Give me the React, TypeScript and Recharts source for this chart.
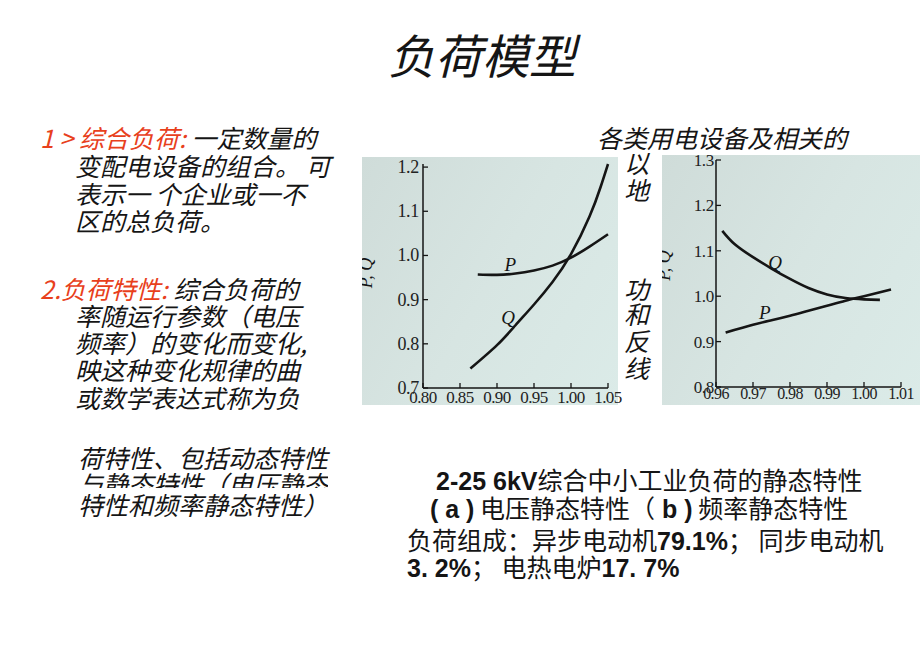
import { LineChart, Line, XAxis, YAxis, ReferenceDot } from 'recharts';

// (a) voltage static characteristic
const voltageTicks = [0.8, 0.85, 0.9, 0.95, 1.0, 1.05];
const voltageLevels = [0.7, 0.8, 0.9, 1.0, 1.1, 1.2];
const pVoltageU = [0.874, 0.9, 0.925, 0.95, 0.975, 1.0, 1.025, 1.05];
const pVoltageVal = [0.957, 0.956, 0.959, 0.966, 0.977, 0.995, 1.02, 1.048];
const qVoltageU = [0.864, 0.9, 0.925, 0.95, 0.975, 1.0, 1.025, 1.04, 1.05];
const qVoltageVal = [0.744, 0.797, 0.842, 0.889, 0.94, 1.003, 1.088, 1.155, 1.207];
const pVoltageTag = [0.918, 0.979];
const qVoltageTag = [0.915, 0.858];

// (b) frequency static characteristic
const freqTicks = [0.96, 0.97, 0.98, 0.99, 1.0, 1.01];
const freqLevels = [0.8, 0.9, 1.0, 1.1, 1.2, 1.3];
const pFreqF = [0.9626, 0.97, 0.975, 0.98, 0.985, 0.99, 0.995, 1.0, 1.0073];
const pFreqVal = [0.92, 0.937, 0.947, 0.957, 0.968, 0.979, 0.99, 1.0, 1.015];
const qFreqF = [0.9617, 0.965, 0.97, 0.975, 0.98, 0.985, 0.99, 0.995, 1.0, 1.0043];
const qFreqVal = [1.144, 1.115, 1.086, 1.061, 1.038, 1.018, 1.004, 0.996, 0.993, 0.992];
const qFreqTag = [0.976, 1.073];
const pFreqTag = [0.9732, 0.963];

const toPoints = (xs: number[], ys: number[]) => xs.map((x, i) => ({ x, y: ys[i] }));

const serif = '"Liberation Serif", "DejaVu Serif", serif';
const cjk = '"Noto Sans CJK SC", "Noto Sans", sans-serif';
const ink = '#151515';

function makeXTick(digits: number, labelDy: number, size: number) {
  return (props: any) => {
    const { x, y, payload } = props;
    return (
      <g>
        <line x1={x} x2={x} y1={y} y2={y - 5} stroke={ink} strokeWidth={1.3} />
        <text x={x} y={y + labelDy} textAnchor="middle" fontFamily={serif} fontSize={size} letterSpacing={-0.6} fill="#222">
          {Number(payload.value).toFixed(digits)}
        </text>
      </g>
    );
  };
}

function makeYTick(gap: number, size: number) {
  return (props: any) => {
    const { x, y, payload } = props;
    return (
      <g>
        <line x1={x} x2={x + 5} y1={y} y2={y} stroke={ink} strokeWidth={1.3} />
        <text x={x - gap} y={y + 6} textAnchor="end" fontFamily={serif} fontSize={size} letterSpacing={-0.3} fill="#222">
          {Number(payload.value).toFixed(1)}
        </text>
      </g>
    );
  };
}

function axisTitle(dx: number, dy: number) {
  return (props: any) => {
    const vb = props.viewBox;
    const cx = vb.x + dx;
    const cy = vb.y + vb.height / 2 + dy;
    return (
      <text
        transform={`translate(${cx}, ${cy}) rotate(-90)`}
        textAnchor="middle"
        fontFamily={serif}
        fontStyle="italic"
        fontSize={18}
        fill={ink}
      >
        P, Q
      </text>
    );
  };
}

function curveTag(text: string) {
  return (props: any) => {
    const vb = props.viewBox;
    return (
      <text
        x={vb.x + vb.width / 2}
        y={vb.y + vb.height / 2 + 6}
        textAnchor="middle"
        fontFamily={serif}
        fontStyle="italic"
        fontSize={19}
        fill={ink}
      >
        {text}
      </text>
    );
  };
}

const axisLine = { stroke: ink, strokeWidth: 1.5 };
const plate = 'linear-gradient(120deg, #cfdcd9 0%, #d7e5e2 50%, #dbebe8 100%)';

function VoltageChart() {
  return (
    <>
      <div style={{ position: 'absolute', left: 362, top: 157, width: 256, height: 248, background: plate }} />
      <div style={{ position: 'absolute', left: 362, top: 157 }}>
        <LineChart width={266} height={248} margin={{ top: 7, right: 20, left: 0, bottom: 0 }}>
          <XAxis
            type="number"
            dataKey="x"
            domain={[0.8, 1.05]}
            ticks={voltageTicks}
            interval={0}
            height={17}
            axisLine={axisLine}
            tickLine={false}
            tickSize={0}
            tickMargin={0}
            tick={makeXTick(2, 15, 17)}
          />
          <YAxis
            type="number"
            domain={[0.7, 1.2]}
            ticks={voltageLevels}
            interval={0}
            width={61}
            axisLine={axisLine}
            tickLine={false}
            tickSize={0}
            tickMargin={0}
            tick={makeYTick(4, 18)}
            label={axisTitle(10, -3)}
          />
          <Line
            data={toPoints(pVoltageU, pVoltageVal)}
            dataKey="y"
            type="natural"
            stroke={ink}
            strokeWidth={2.6}
            dot={false}
            isAnimationActive={false}
          />
          <Line
            data={toPoints(qVoltageU, qVoltageVal)}
            dataKey="y"
            type="natural"
            stroke={ink}
            strokeWidth={2.6}
            dot={false}
            isAnimationActive={false}
          />
          <ReferenceDot x={pVoltageTag[0]} y={pVoltageTag[1]} r={1} fill="none" stroke="none" label={curveTag('P')} />
          <ReferenceDot x={qVoltageTag[0]} y={qVoltageTag[1]} r={1} fill="none" stroke="none" label={curveTag('Q')} />
        </LineChart>
      </div>
    </>
  );
}

function FrequencyChart() {
  return (
    <>
      <div style={{ position: 'absolute', left: 662, top: 155, width: 258, height: 250, background: plate }} />
      <div style={{ position: 'absolute', left: 662, top: 155 }}>
        <LineChart width={258} height={250} margin={{ top: 5, right: 19, left: 0, bottom: 0 }}>
          <XAxis
            type="number"
            dataKey="x"
            domain={[0.96, 1.01]}
            ticks={freqTicks}
            interval={0}
            height={18}
            axisLine={axisLine}
            tickLine={false}
            tickSize={0}
            tickMargin={0}
            tick={makeXTick(2, 12, 16)}
          />
          <YAxis
            type="number"
            domain={[0.8, 1.3]}
            ticks={freqLevels}
            interval={0}
            width={54}
            axisLine={axisLine}
            tickLine={false}
            tickSize={0}
            tickMargin={0}
            tick={makeYTick(2, 17)}
            label={axisTitle(8, -8)}
          />
          <Line
            data={toPoints(pFreqF, pFreqVal)}
            dataKey="y"
            type="natural"
            stroke={ink}
            strokeWidth={2.6}
            dot={false}
            isAnimationActive={false}
          />
          <Line
            data={toPoints(qFreqF, qFreqVal)}
            dataKey="y"
            type="natural"
            stroke={ink}
            strokeWidth={2.6}
            dot={false}
            isAnimationActive={false}
          />
          <ReferenceDot x={qFreqTag[0]} y={qFreqTag[1]} r={1} fill="none" stroke="none" label={curveTag('Q')} />
          <ReferenceDot x={pFreqTag[0]} y={pFreqTag[1]} r={1} fill="none" stroke="none" label={curveTag('P')} />
        </LineChart>
      </div>
    </>
  );
}

function T({ x, y, size = 25, italic = true, clip, children }: any) {
  const top = y - size * 0.65;
  return (
    <div
      style={{
        position: 'absolute',
        left: x,
        top,
        fontSize: size,
        lineHeight: `${size * 1.2}px`,
        height: clip ? clip - top : undefined,
        overflow: clip ? 'hidden' : undefined,
        whiteSpace: 'pre',
        fontFamily: cjk,
        fontStyle: italic ? 'italic' : 'normal',
        color: ink,
      }}
    >
      {children}
    </div>
  );
}

const red = { color: '#e8401c' };
const bold = { fontFamily: '"Liberation Sans", Arial, sans-serif', fontWeight: 700 };

export default function App() {
  return (
    <div style={{ position: 'absolute', left: 0, top: 0, width: 920, height: 656, background: '#fff', overflow: 'hidden' }}>
      <T x={388} y={57} size={47}>负荷模型</T>

      <T x={40} y={138}><span style={red}>1 &gt; 综合负荷: </span>一定数量的</T>
      <T x={75} y={166}>变配电设备的组合。 可</T>
      <T x={75} y={194}>表示一 个企业或一不</T>
      <T x={75} y={221}>区的总负荷。</T>

      <T x={40} y={289}><span style={red}>2.负荷特性: </span>综合负荷的</T>
      <T x={75} y={316}>率随运行参数（电压</T>
      <T x={75} y={343}>频率）的变化而变化,</T>
      <T x={75} y={370}>映这种变化规律的曲</T>
      <T x={75} y={398}>或数学表达式称为负</T>
      <T x={78} y={458}>荷特性、包括动态特性</T>
      <T x={78} y={484} clip={488}>与静态特性（电压静态</T>
      <T x={78} y={505}>特性和频率静态特性）</T>

      <T x={597} y={138}>各类用电设备及相关的</T>
      <T x={624} y={163}>以</T>
      <T x={624} y={190}>地</T>
      <T x={624} y={289}>功</T>
      <T x={624} y={314}>和</T>
      <T x={624} y={341}>反</T>
      <T x={624} y={368}>线</T>

      <VoltageChart />
      <FrequencyChart />

      <T x={436} y={480} size={25} italic={false}><span style={bold}>2-25 6kV</span>综合中小工业负荷的静态特性</T>
      <T x={430} y={508} size={25} italic={false}><span style={bold}>( a )</span> 电压静态特性（<span style={bold}> b )</span> 频率静态特性</T>
      <T x={407} y={540} size={25} italic={false}>负荷组成：异步电动机<span style={bold}>79.1%</span>； 同步电动机</T>
      <T x={407} y={567} size={25} italic={false}><span style={bold}>3. 2%</span>； 电热电炉<span style={bold}>17. 7%</span></T>
    </div>
  );
}
